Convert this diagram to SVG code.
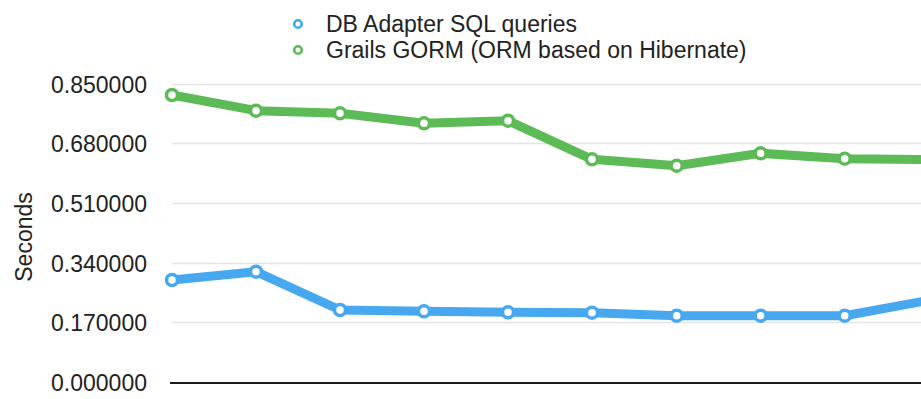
<svg xmlns="http://www.w3.org/2000/svg" width="921" height="399" viewBox="0 0 921 399">
  <style>
    .lbl { font-family: "Liberation Sans", Arial, Helvetica, sans-serif; font-size: 23px; fill: #222; }
    .tick { text-anchor: end; }
    .grid { stroke: #e4e4e4; stroke-width: 1.5; }
    .axis { stroke: #1a1a1a; stroke-width: 2.2; }
    .series { fill: none; stroke-width: 9; stroke-linejoin: round; stroke-linecap: round; }
    .blue { stroke: #47a8f0; }
    .green { stroke: #5cbb56; }
    .pt { fill: #fff; stroke-width: 3.5; }
  </style>
  <rect width="921" height="399" fill="#fff"/>

  <!-- legend -->
  <g id="legend">
    <circle cx="298" cy="24" r="3.8" fill="#fff" stroke="#47a8f0" stroke-width="2.6"/>
    <text class="lbl" x="326" y="32">DB Adapter SQL queries</text>
    <circle cx="298" cy="50" r="3.8" fill="#fff" stroke="#5cbb56" stroke-width="2.6"/>
    <text class="lbl" x="326" y="57.5">Grails GORM (ORM based on Hibernate)</text>
  </g>

  <!-- y axis -->
  <g id="y-axis">
    <text class="lbl" transform="translate(32,237) rotate(-90)" text-anchor="middle">Seconds</text>
    <text class="lbl tick" x="147" y="93">0.850000</text>
    <text class="lbl tick" x="147" y="152">0.680000</text>
    <text class="lbl tick" x="147" y="212">0.510000</text>
    <text class="lbl tick" x="147" y="272">0.340000</text>
    <text class="lbl tick" x="147" y="331">0.170000</text>
    <text class="lbl tick" x="147" y="391">0.000000</text>
  </g>

  <!-- gridlines and baseline -->
  <g id="grid">
    <line class="grid" x1="172" y1="84.5" x2="921" y2="84.5"/>
    <line class="grid" x1="172" y1="143.5" x2="921" y2="143.5"/>
    <line class="grid" x1="172" y1="203.5" x2="921" y2="203.5"/>
    <line class="grid" x1="172" y1="263.5" x2="921" y2="263.5"/>
    <line class="grid" x1="172" y1="322.5" x2="921" y2="322.5"/>
    <line class="axis" x1="170" y1="383" x2="921" y2="383"/>
  </g>

  <!-- series lines -->
  <g id="connectors">
    <polyline class="series green" points="172,95 256,110.7 340,113.3 424,123.3 508,120.7 592,159.3 676.7,165.7 760.7,153.3 844.7,158.7 929,159.5"/>
    <polyline class="series blue" points="172,280 256,271.7 340,310 424,311.3 508,312.3 592,312.7 676.7,315.7 760.7,315.7 844.7,315.7 929,300.3"/>
  </g>

  <!-- data points -->
  <g id="green-points" class="green">
    <circle class="pt" cx="172" cy="95" r="5.5"/>
    <circle class="pt" cx="256" cy="110.7" r="5.5"/>
    <circle class="pt" cx="340" cy="113.3" r="5.5"/>
    <circle class="pt" cx="424" cy="123.3" r="5.5"/>
    <circle class="pt" cx="508" cy="120.7" r="5.5"/>
    <circle class="pt" cx="592" cy="159.3" r="5.5"/>
    <circle class="pt" cx="676.7" cy="165.7" r="5.5"/>
    <circle class="pt" cx="760.7" cy="153.3" r="5.5"/>
    <circle class="pt" cx="844.7" cy="158.7" r="5.5"/>
  </g>
  <g id="blue-points" class="blue">
    <circle class="pt" cx="172" cy="280" r="5.5"/>
    <circle class="pt" cx="256" cy="271.7" r="5.5"/>
    <circle class="pt" cx="340" cy="310" r="5.5"/>
    <circle class="pt" cx="424" cy="311.3" r="5.5"/>
    <circle class="pt" cx="508" cy="312.3" r="5.5"/>
    <circle class="pt" cx="592" cy="312.7" r="5.5"/>
    <circle class="pt" cx="676.7" cy="315.7" r="5.5"/>
    <circle class="pt" cx="760.7" cy="315.7" r="5.5"/>
    <circle class="pt" cx="844.7" cy="315.7" r="5.5"/>
  </g>
</svg>
